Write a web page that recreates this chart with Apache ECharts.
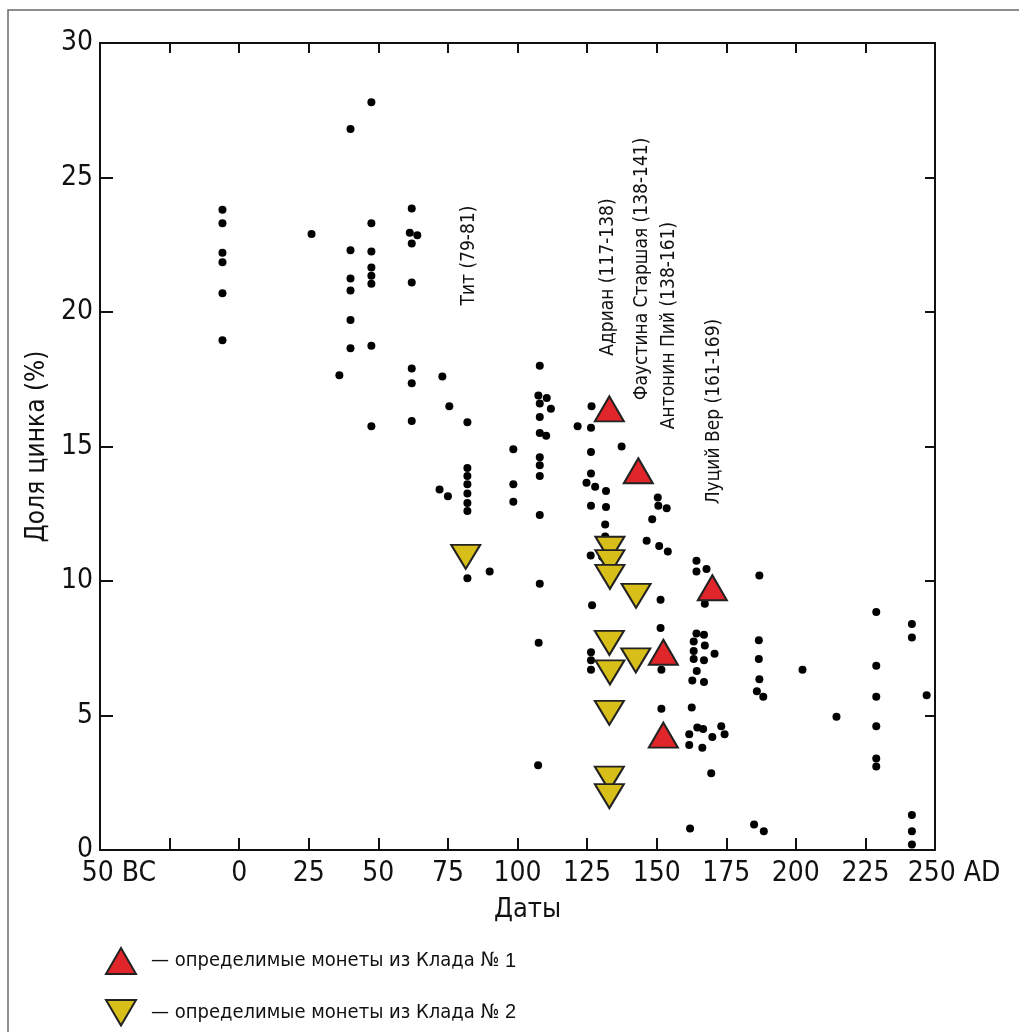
<!DOCTYPE html>
<html><head><meta charset="utf-8">
<script src="https://cdn.jsdelivr.net/npm/echarts@6/dist/echarts.min.js"></script>
<style>html,body{margin:0;padding:0;background:#fff}#c{width:1019px;height:1032px}</style>
</head><body><div id="c"></div>
<script>
// ---- data ----
const xTickLabels = ['50 BC', '', '0', '25', '50', '75', '100', '125', '150', '175', '200', '225', '250 AD'];
const yTickValues = [0, 5, 10, 15, 20, 25, 30];

// other coins: [date, zinc %]
const coinPoints = [
  [-6, 23.8], [-6, 23.3], [-6, 22.2], [-6, 21.85], [-6, 20.7], [-6, 18.95],
  [26, 22.9],
  [40, 26.8], [40, 22.3], [40, 21.25], [40, 20.8], [40, 19.7], [40, 18.65],
  [36, 17.65],
  [47.5, 27.8], [47.5, 23.3], [47.5, 22.25], [47.5, 21.65], [47.5, 21.35], [47.5, 21.05], [47.5, 18.75], [47.5, 15.75],
  [62, 23.85], [61.3, 22.95], [64, 22.85], [62, 22.55], [62, 21.1], [62, 17.9], [62, 17.35], [62, 15.95],
  [73, 17.6], [75.5, 16.5], [72, 13.4], [75, 13.15], [82, 15.9],
  [82, 14.2], [82, 13.9], [82, 13.6], [82, 13.25], [82, 12.9], [82, 12.6], [82, 10.1],
  [90, 10.35],
  [98.5, 14.9], [98.5, 13.6], [98.5, 12.95],
  [108, 18.0], [107.5, 16.9], [108, 16.6], [108, 16.1], [108, 15.5], [108, 14.6], [108, 14.3], [108, 13.9],
  [108, 12.45], [108, 9.9], [107.6, 7.7], [107.4, 3.15],
  [110.5, 16.8], [112, 16.4], [110.3, 15.4],
  [121.6, 15.75],
  [126.6, 16.5], [126.4, 15.7], [126.4, 14.8], [126.4, 14.0], [126.4, 12.8], [126.3, 10.95], [126.8, 9.1],
  [126.4, 7.35], [126.4, 7.05], [126.4, 6.7],
  [124.8, 13.65], [127.9, 13.5],
  [131.8, 13.35], [131.8, 12.75], [131.5, 12.1], [131.5, 11.65], [130.4, 10.9],
  [137.4, 15.0],
  [150.4, 13.1], [150.6, 12.8], [153.6, 12.7], [148.4, 12.3], [146.4, 11.5], [150.9, 11.3], [154, 11.1],
  [151.4, 9.3], [151.4, 8.25], [151.7, 6.7], [151.7, 5.25],
  [164.3, 10.75], [164.3, 10.35], [167.9, 10.45], [167.3, 9.15],
  [164.3, 8.05], [167, 8.0], [163.3, 7.75], [167.3, 7.6], [163.3, 7.4], [170.8, 7.3], [163.3, 7.1],
  [167, 7.05], [164.4, 6.65], [162.8, 6.3], [167, 6.25],
  [162.6, 5.3],
  [161.7, 4.3], [161.7, 3.9], [164.6, 4.55], [166.7, 4.5], [166.4, 3.8], [170, 4.2], [173.2, 4.6], [174.4, 4.3], [169.6, 2.85],
  [162, 0.8],
  [186.9, 10.2], [186.7, 7.8], [186.7, 7.1], [186.9, 6.35], [186, 5.9], [188.3, 5.7], [185, 0.95], [188.5, 0.7],
  [202.4, 6.7], [214.6, 4.95],
  [228.9, 8.85], [228.9, 6.85], [228.9, 5.7], [228.9, 4.6], [228.9, 3.4], [228.9, 3.1],
  [241.7, 8.4], [241.7, 7.9], [241.7, 1.3], [241.7, 0.7], [241.7, 0.2],
  [247, 5.75]
];

// identifiable coins, hoard No. 1 (red up triangles)
const hoard1Points = [[133, 16.4], [143.4, 14.1], [152.4, 7.35], [152.4, 4.27], [170, 9.75]];

// identifiable coins, hoard No. 2 (yellow down triangles)
const hoard2Points = [
  [81.4, 10.9], [133.2, 11.2], [133.2, 10.7], [133.2, 10.15], [142.6, 9.45],
  [133, 7.7], [142.5, 7.05], [133.2, 6.6], [133, 5.1], [133, 2.65], [133, 2.0]
];

// rotated emperor labels: [x, y, text]
const rulerLabels = [
  [82.5, 22.1, 'Тит (79-81)'],
  [132.7, 21.3, 'Адриан (117-138)'],
  [144.6, 21.6, 'Фаустина Старшая (138-141)'],
  [154.4, 19.5, 'Антонин Пий (138-161)'],
  [170.6, 16.3, 'Луций Вер (161-169)']
];

const legendTexts = ['— определимые монеты из Клада № ', '— определимые монеты из Клада № '];
const legendNumbers = ['1', '2'];

// ---- chart ----
const NARROW = '"Liberation Sans Narrow", "Arial Narrow", "DejaVu Sans Condensed", sans-serif';
const INK = '#111';
const RED = '#e0262a';
const YEL = '#d8be18';
const DOWN_TRI = 'path://M0,0 L20,0 L10,17 Z';

const chart = echarts.init(document.getElementById('c'));
const axisLineStyle = { color: INK, width: 2 };

chart.setOption({
  backgroundColor: '#fff',
  animation: false,
  grid: { left: 100, top: 43, right: 84, bottom: 182, containLabel: false },
  xAxis: [
    {
      type: 'value', min: -50, max: 250, interval: 25, position: 'bottom',
      axisLine: { show: true, onZero: false, lineStyle: axisLineStyle },
      axisTick: { show: true, inside: true, length: 12, lineStyle: { color: INK, width: 2 } },
      splitLine: { show: false },
      axisLabel: {
        show: true, margin: 10, color: INK, fontFamily: NARROW, fontSize: 28,
        formatter: function (v) {
          const t = xTickLabels[Math.round((v + 50) / 25)];
          if (t === undefined || t === '') return '';
          if (t.indexOf(' ') > 0) return '{w|' + t + '}';
          return t;
        },
        rich: { w: { padding: [0, 0, 0, 38], fontFamily: NARROW, fontSize: 28, color: INK } }
      },
      name: 'Даты', nameLocation: 'middle', nameGap: 46,
      nameTextStyle: { fontFamily: NARROW, fontSize: 27, color: INK, padding: [0, 0, 0, 20] }
    },
    {
      type: 'value', min: -50, max: 250, interval: 25, position: 'top',
      axisLine: { show: true, onZero: false, lineStyle: axisLineStyle },
      axisTick: { show: true, inside: true, length: 10, lineStyle: { color: INK, width: 2 } },
      splitLine: { show: false }, axisLabel: { show: false }
    }
  ],
  yAxis: [
    {
      type: 'value', min: 0, max: 30, interval: 5, position: 'left',
      axisLine: { show: true, onZero: false, lineStyle: axisLineStyle },
      axisTick: { show: true, inside: true, length: 13, lineStyle: { color: INK, width: 2 } },
      splitLine: { show: false },
      axisLabel: {
        margin: 7, color: INK, fontFamily: NARROW, fontSize: 28,
        formatter: function (v) { return yTickValues.indexOf(v) >= 0 ? String(v) : ''; }
      },
      name: 'Доля цинка (%)', nameLocation: 'middle', nameGap: 37, nameRotate: 90,
      nameTextStyle: { fontFamily: NARROW, fontSize: 26, color: INK }
    },
    {
      type: 'value', min: 0, max: 30, interval: 5, position: 'right',
      axisLine: { show: true, onZero: false, lineStyle: axisLineStyle },
      axisTick: { show: true, inside: true, length: 10, lineStyle: { color: INK, width: 2 } },
      splitLine: { show: false }, axisLabel: { show: false }
    }
  ],
  legend: {
    orient: 'vertical', left: 100, top: 942, itemWidth: 30, itemHeight: 26, itemGap: 24,
    selectedMode: false,
    data: [{ name: 'h1', icon: 'triangle' }, { name: 'h2', icon: DOWN_TRI }],
    formatter: function (name) {
      const i = name === 'h1' ? 0 : 1;
      return '{t|' + legendTexts[i] + '}{n|' + legendNumbers[i] + '}';
    },
    textStyle: {
      padding: [0, 0, 0, 10],
      rich: {
        t: { fontFamily: NARROW, fontSize: 20, color: INK },
        n: { fontFamily: '"Liberation Sans", Arial, sans-serif', fontSize: 20, color: INK }
      }
    }
  },
  graphic: [
    { type: 'rect', z: -10, silent: true, shape: { x: 8, y: 10, width: 1040, height: 1060 },
      style: { fill: 'none', stroke: '#6a6a6a', lineWidth: 1.5 } }
  ],
  series: [
    {
      name: 'coins', type: 'scatter', data: coinPoints, symbol: 'circle', symbolSize: 8,
      itemStyle: { color: '#000', opacity: 1 }, silent: true, z: 2
    },
    {
      name: 'h2', type: 'scatter', data: hoard2Points, symbol: 'triangle', symbolRotate: 180,
      symbolSize: [29, 24],
      itemStyle: { color: YEL, borderColor: '#222', borderWidth: 2, opacity: 1 }, z: 3
    },
    {
      name: 'h1', type: 'scatter', data: hoard1Points, symbol: 'triangle', symbolSize: [29, 25],
      itemStyle: { color: RED, borderColor: '#222', borderWidth: 2, opacity: 1 }, z: 4
    },
    {
      name: 'rulers', type: 'scatter', silent: true, symbolSize: 0, z: 5,
      itemStyle: { opacity: 1 },
      data: rulerLabels.map(function (r) { return { value: [r[0], r[1]], label: { formatter: r[2] } }; }),
      label: {
        show: true, position: 'inside', rotate: 90, align: 'center', verticalAlign: 'middle',
        fontFamily: NARROW, fontSize: 19, color: INK
      }
    }
  ]
});
</script></body></html>
